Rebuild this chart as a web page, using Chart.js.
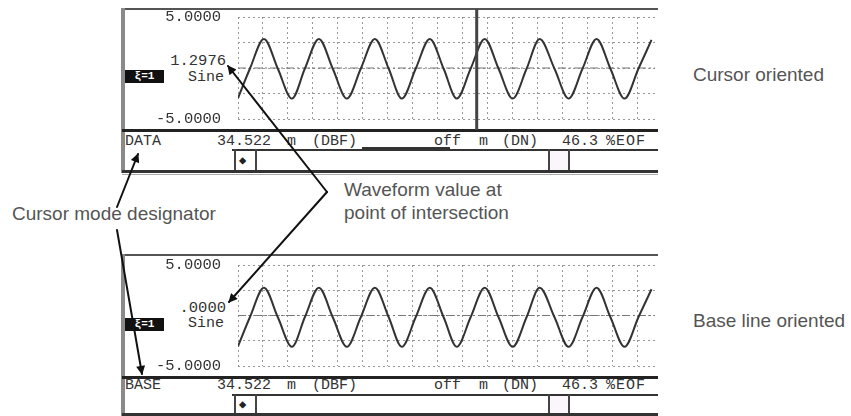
<!DOCTYPE html>
<html><head><meta charset="utf-8">
<script src="https://cdn.jsdelivr.net/npm/chart.js@4.4.1/dist/chart.umd.min.js"></script>
<style>
html,body{margin:0;padding:0;background:#fff;}
#stage{position:relative;width:851px;height:416px;overflow:hidden;background:#fff;}
.r{position:absolute;}
.t{position:absolute;white-space:nowrap;}
.mono{font-family:"Liberation Mono",monospace;color:#333;font-size:15px;}
.sans{font-family:"Liberation Sans",Arial,sans-serif;color:#555;font-size:19px;}
.tag{position:absolute;background:#111;color:#fff;font-family:"Liberation Mono",monospace;font-size:11px;font-weight:bold;text-align:center;}
</style></head><body><div id="stage"></div>
<script>
// ---- data ----
const timeDiv = [0.00,0.48,1.04,1.60,2.16,2.68,3.24,3.80,4.36,4.92,5.48,6.04,6.56,7.12,7.68,8.24,8.76,9.32,9.88,10.44,11.00,11.56,12.08,12.68,13.24,13.80,14.36,14.92,15.48,16.04,16.56];
const cursorWave = [-2.95,-0.05,2.85,-0.1,-3.0,-0.05,2.85,-0.1,-3.0,-0.05,2.85,-0.1,-3.0,-0.05,2.85,-0.1,-3.0,-0.05,2.85,-0.1,-3.0,-0.05,2.85,-0.1,-3.0,-0.05,2.85,-0.1,-3.0,-0.05,2.75];
const baseWave = [-3.05,-0.15,2.75,-0.2,-3.1,-0.15,2.75,-0.2,-3.1,-0.15,2.75,-0.2,-3.1,-0.15,2.75,-0.2,-3.1,-0.15,2.75,-0.2,-3.1,-0.15,2.75,-0.2,-3.1,-0.15,2.75,-0.2,-3.1,-0.15,2.6];
const yTicks = [-5,-2.5,0,2.5,5];
const yTickLabels = ['-5.0000','','','',' 5.0000'];
const cursorAt = 9.56;
const cursorSpan = [5.8,-6.1];
const panelTitles = ['Cursor oriented','Base line oriented'];
const modeNames = ['DATA','BASE'];
const readouts = ['1.2976','.0000'];
const statusTokens = ['34.522','m','(DBF)','off','m','(DN)','46.3','%EOF'];
const notes = ['Waveform value at','point of intersection','Cursor mode designator'];

const stage = document.getElementById('stage');
function rect(l,t,w,h,bg){const d=document.createElement('div');d.className='r';d.style.cssText=`left:${l}px;top:${t}px;width:${w}px;height:${h}px;background:${bg}`;stage.appendChild(d);return d;}
function text(s,l,cy,cls,h,extra){const d=document.createElement('div');d.className='t '+cls;d.textContent=s;d.style.left=l+'px';d.style.top=(cy-h/2)+'px';d.style.height=h+'px';d.style.lineHeight=h+'px';if(extra)d.style.cssText+=extra;stage.appendChild(d);return d;}
function textR(s,right,cy,cls,h){const d=text(s,0,cy,cls,h);d.style.left='auto';d.style.right=(851-right)+'px';return d;}

function panel(top, plotTop, plotH, statusY, lineY, bottomY, mode, readout, wave, withCursor, idx){
  const canvasH = plotTop-top+plotH+11;
  // frame
  rect(122, top-1, 536, 2, '#555');
  rect(121, top-1, 4, bottomY-top+4, '#8a8a8a');
  rect(122, top+canvasH-1, 536, 2.5, '#222');
  rect(549.5, lineY+2, 18.5, bottomY-lineY-2, '#fbf6fb');
  rect(232, lineY, 426, 2, '#333');
  [234,255,548,568].forEach(x=>rect(x, lineY, 1.5, bottomY-lineY, '#444'));
  rect(122, bottomY, 536, 3, '#333');
  rect(122, bottomY+4, 536, 1, '#aaa');
  text('◆', 239, (lineY+bottomY)/2+1, 'mono', 14, 'font-size:12px;color:#222');
  // status row
  text(mode, 125, statusY, 'mono', 16);
  const xs=[217,287,312,434,479,502,562,606];
  statusTokens.forEach((s,i)=>text(s, xs[i], statusY, 'mono', 16, i===7?'letter-spacing:1px':''));
  // readouts
  textR(readout, 226, withCursor?61:308, 'mono', 16).style.fontSize='15.5px';
  textR('Sine', 224, withCursor?78:324, 'mono', 16);
  const tg=document.createElement('div');tg.className='tag';tg.textContent='ξ=1';
  tg.style.cssText+=`left:125px;top:${withCursor?70:318}px;width:39px;height:13px;line-height:13px`;
  stage.appendChild(tg);
  // chart
  const holder=document.createElement('div');holder.className='r';
  holder.style.cssText=`left:122px;top:${top}px;width:536px;height:${canvasH}px`;
  const cv=document.createElement('canvas');cv.width=536;cv.height=canvasH;
  holder.appendChild(cv);stage.appendChild(holder);
  const datasets=[
    {data: timeDiv.map((x,i)=>({x,y:wave[i]})), borderColor:'#333', borderWidth:2, pointRadius:0, cubicInterpolationMode:'monotone', order:1},
    {data:[{x:0,y:0},{x:16.7,y:0}], borderColor:'#777', borderWidth:1, borderDash:[8,3,2,3], pointRadius:0, order:3}
  ];
  if(withCursor) datasets.push({data:[{x:cursorAt,y:cursorSpan[0]},{x:cursorAt,y:cursorSpan[1]}], borderColor:'#444', borderWidth:3, pointRadius:0, clip:false, order:0});
  new Chart(cv,{type:'line',data:{datasets},options:{
    responsive:false, animation:false, devicePixelRatio:1,
    layout:{padding:{top:plotTop-top, bottom:11, right:3, left:34}},
    plugins:{legend:{display:false}, tooltip:{enabled:false}},
    scales:{
      x:{type:'linear', min:0, max:16.7, ticks:{display:false, stepSize:1, includeBounds:false},
         grid:{color:'#999', lineWidth:1, drawTicks:false}, border:{display:false, dash:[2,3]},
         afterFit:s=>{s.height=0;}},
      y:{type:'linear', min:-5, max:5, afterBuildTicks:s=>{s.ticks=yTicks.map(v=>({value:v}));},
         ticks:{callback:(v)=>yTickLabels[yTicks.indexOf(v)], color:'#333', padding:0, crossAlign:'far',
                font:{family:'Liberation Mono', size:15.5, lineHeight:1}},
         grid:{color:'#999', lineWidth:1, drawTicks:false}, border:{display:false, dash:[2,3]},
         afterFit:s=>{s.width=82;}}
    }}});
  text(panelTitles[idx], 693, withCursor?75:321, 'sans', 22);
}

panel(9, 17, 102, 142, 149, 170, modeNames[0], readouts[0], cursorWave, true, 0);
panel(255, 265, 101, 386, 394, 413, modeNames[1], readouts[1], baseWave, false, 1);

// underline segment in top status row
rect(362, 147, 88, 2, '#333');

// annotation texts
text(notes[0], 344, 190, 'sans', 22);
text(notes[1], 344, 213, 'sans', 22);
text(notes[2], 12, 214, 'sans', 22);

// arrows
const svgNS='http://www.w3.org/2000/svg';
const svg=document.createElementNS(svgNS,'svg');
svg.setAttribute('width','851');svg.setAttribute('height','416');
svg.style.cssText='position:absolute;left:0;top:0;';
svg.innerHTML=`<defs><marker id="ah" viewBox="0 0 10 10" refX="9" refY="5" markerWidth="11" markerHeight="9" markerUnits="userSpaceOnUse" orient="auto"><path d="M0,0 L10,5 L0,10 z" fill="#111"/></marker></defs>
<g stroke="#111" stroke-width="2" fill="none" stroke-linecap="round">
<line x1="327" y1="192" x2="228" y2="66" marker-end="url(#ah)"/>
<line x1="327" y1="192" x2="229" y2="302" marker-end="url(#ah)"/>
<line x1="117" y1="207" x2="138" y2="154" marker-end="url(#ah)"/>
<line x1="117" y1="230" x2="142" y2="374" marker-end="url(#ah)"/>
</g>`;
stage.appendChild(svg);
</script></body></html>
